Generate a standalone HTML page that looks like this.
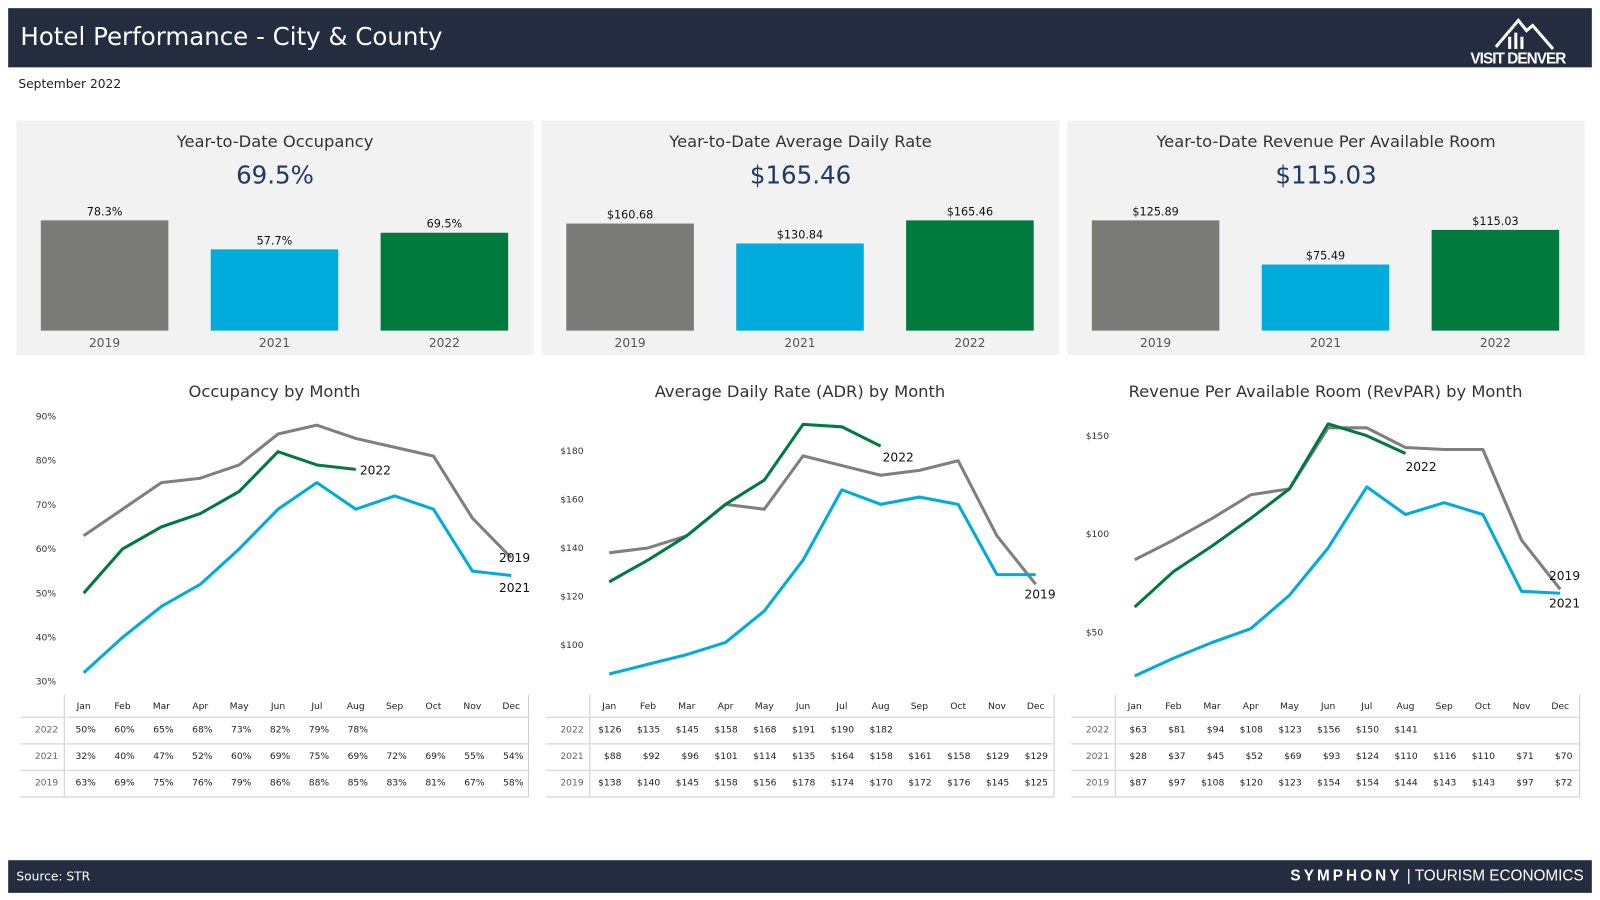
<!DOCTYPE html>
<html><head><meta charset="utf-8">
<style>
html,body{margin:0;width:1600px;height:900px;overflow:hidden;background:#fff}
#wrap{position:absolute;left:0;top:0;width:1568px;height:882px;transform:scale(1.020408);transform-origin:0 0;font-family:"DejaVu Sans","Liberation Sans",sans-serif}
.abs{position:absolute}
#hdr{left:8px;top:8px;width:1552px;height:58px;background:#232d3f}
#ftr{left:8px;top:843px;width:1552px;height:32px;background:#232d3f}
.panel{top:118px;height:230px;width:507px;background:#f2f2f2}
.ptitle{font-size:16px;color:#333;text-align:center;width:100%;top:11px}
.pval{font-size:24px;color:#1f3864;text-align:center;width:100%;top:40px}
</style></head><body>
<div id="wrap">
<div id="hdr" class="abs">
 <div class="abs" style="left:12px;top:14px;font-size:24px;color:#fff">Hotel Performance - City &amp; County</div>
 <svg class="abs" style="left:1430px;top:4px" width="100" height="54">
  <polyline points="28,34 50,8 58,18 64,13 84,36" fill="none" stroke="#fff" stroke-width="3"/>
  <rect x="40" y="24" width="3" height="12" fill="#fff"/><rect x="46" y="20" width="3" height="16" fill="#fff"/><rect x="52" y="24" width="3" height="12" fill="#fff"/>
  <text x="50" y="50" fill="#fff" font-family="Liberation Sans" font-weight="bold" font-size="15" text-anchor="middle" textLength="94">VISIT DENVER</text>
 </svg>
</div>
<div class="abs" style="left:18px;top:75px;font-size:12px;color:#222">September 2022</div>
<div id="ftr" class="abs">
 <div class="abs" style="left:8px;top:9px;font-size:12px;color:#fff">Source: STR</div>
 <div class="abs" style="right:8px;top:7px;font-size:15px;color:#fff;font-family:'Liberation Sans',sans-serif"><b style="letter-spacing:3px">SYMPHONY</b> | TOURISM ECONOMICS</div>
</div>
<svg id="main" class="abs" style="left:0;top:0" width="1568" height="882"></svg>
</div>
<script>
const months=["Jan","Feb","Mar","Apr","May","Jun","Jul","Aug","Sep","Oct","Nov","Dec"];
const ytdYears=["2019","2021","2022"];
const ytdOcc=[78.3,57.7,69.5];
const ytdAdr=[160.68,130.84,165.46];
const ytdRev=[125.89,75.49,115.03];
const occ2022=[50,60,65,68,73,82,79,78];
const occ2021=[32,40,47,52,60,69,75,69,72,69,55,54];
const occ2019=[63,69,75,76,79,86,88,85,83,81,67,58];
const adr2022=[126,135,145,158,168,191,190,182];
const adr2021=[88,92,96,101,114,135,164,158,161,158,129,129];
const adr2019=[138,140,145,158,156,178,174,170,172,176,145,125];
const rev2022=[63,81,94,108,123,156,150,141];
const rev2021=[28,37,45,52,69,93,124,110,116,110,71,70];
const rev2019=[87,97,108,120,123,154,154,144,143,143,97,72];
const occTicks=[30,40,50,60,70,80,90];
const adrTicks=[100,120,140,160,180];
const revTicks=[50,100,150];

const NS="http://www.w3.org/2000/svg";
const svg=document.getElementById('main');
const wrap=document.getElementById('wrap');
function mk(tag,attrs,parent,text){const e=document.createElementNS(NS,tag);for(const k in attrs)e.setAttribute(k,attrs[k]);if(text!==undefined)e.textContent=text;(parent||svg).appendChild(e);return e;}
const colors={"2019":"#7f7f7f","2021":"#00acdb","2022":"#007a3d"};
const barColors=["#7a7a76","#00acdb","#007a3d"];

function panel(x0,title,valText,vals,scale,fmt,name){
  const d=document.createElement('div');d.className='abs panel';d.style.left=x0+'px';
  
  
  d.innerHTML='<div class="abs ptitle">'+title+'</div><div class="abs pval">'+valText+'</div>';
  wrap.insertBefore(d,svg);
  vals.forEach((v,i)=>{
    const bx=x0+24+i*166.5, h=v*scale, base=324;
    const r=mk('rect',{x:bx,y:base-h,width:125,height:h,fill:barColors[i]});
    
    
    const t=mk('text',{x:bx+62.5,y:base-h-5,'font-size':11,'text-anchor':'middle',fill:'#111'},svg,fmt(v));
    
    
    const c=mk('text',{x:bx+62.5,y:340,'font-size':12,'text-anchor':'middle',fill:'#555'},svg,ytdYears[i]);
    
    
  });
}
panel(16,'Year-to-Date Occupancy','69.5%',ytdOcc,1.38,v=>v.toFixed(1)+'%','ytd-occupancy');
panel(531,'Year-to-Date Average Daily Rate','$165.46',ytdAdr,0.653,v=>'$'+v.toFixed(2),'ytd-adr');
panel(1046,'Year-to-Date Revenue Per Available Room','$115.03',ytdRev,0.858,v=>'$'+v.toFixed(2),'ytd-revpar');

function lineChart(cfg){
  const {x0,title,ticks,tmin,y0,yT,tmax,series,fmt,tfmt,name,labels,tickX}=cfg;
  const yS=v=>y0-(v-tmin)*(y0-yT)/(tmax-tmin);
  const xS=i=>cfg.xJan+i*(cfg.xDec-cfg.xJan)/11;
  const tt=mk('text',{x:x0+253,y:389,'font-size':16,'text-anchor':'middle',fill:'#333'},svg,title);
  
  
  ticks.forEach(t=>{const e=mk('text',{x:tickX,y:yS(t)+3,'font-size':9,fill:'#333'},svg,tfmt(t));
    
    });
  series.forEach(s=>{
    const pts=s.data.map((v,i)=>xS(i)+','+yS(v)).join(' ');
    const p=mk('polyline',{points:pts,fill:'none',stroke:colors[s.year],'stroke-width':3,'stroke-linejoin':'round'});
    
    
  });
  labels.forEach(l=>{
    const s=series.find(q=>q.year===l.year);const n=s.data.length-1;
    const e=mk('text',{x:xS(n)+l.dx,y:yS(s.data[n])+l.dy,'font-size':12,fill:'#111'},svg,l.year);
    
    
  });
  const tl=x0+4, tr=x0+502;
  mk('line',{x1:x0+47,y1:681,x2:x0+47,y2:781,stroke:'#ccc'});
  mk('line',{x1:tr,y1:681,x2:tr,y2:781,stroke:'#ccc'});
  [703,729,755,781].forEach(y=>mk('line',{x1:tl,y1:y,x2:tr,y2:y,stroke:'#ddd','stroke-width':1.5}));
  months.forEach((m,i)=>{const e=mk('text',{x:xS(i),y:695,'font-size':9,'text-anchor':'middle',fill:'#222'},svg,m);
    
    });
  const rows=[series.find(s=>s.year==='2022'),series.find(s=>s.year==='2021'),series.find(s=>s.year==='2019')];
  rows.forEach((s,r)=>{
    const y=718+r*26;
    const e=mk('text',{x:x0+41,y:y,'font-size':9,'text-anchor':'end',fill:'#666'},svg,s.year);
    
    
    s.data.forEach((v,i)=>{const c=mk('text',{x:xS(i)+12,y:y,'font-size':9,'text-anchor':'end',fill:'#222'},svg,fmt(v));
      
      });
  });
}
lineChart({x0:16,name:'occupancy',title:'Occupancy by Month',ticks:occTicks,tmin:30,tmax:90,y0:668,yT:408,xJan:82,xDec:501,tickX:35,
  series:[{year:'2019',data:occ2019},{year:'2021',data:occ2021},{year:'2022',data:occ2022}],
  fmt:v=>v+'%',tfmt:t=>t+'%',labels:[{year:'2022',dx:4,dy:5},{year:'2019',dx:-12,dy:4},{year:'2021',dx:-12,dy:16}]});
lineChart({x0:531,name:'adr',title:'Average Daily Rate (ADR) by Month',ticks:adrTicks,tmin:100,tmax:180,y0:632,yT:442,xJan:597,xDec:1015,tickX:549,
  series:[{year:'2019',data:adr2019},{year:'2021',data:adr2021},{year:'2022',data:adr2022}],
  fmt:v=>'$'+v,tfmt:t=>'$'+t,labels:[{year:'2022',dx:2,dy:15},{year:'2019',dx:-11,dy:14}]});
lineChart({x0:1046,name:'revpar',title:'Revenue Per Available Room (RevPAR) by Month',ticks:revTicks,tmin:50,tmax:150,y0:620,yT:427,xJan:1112,xDec:1529,tickX:1064,
  series:[{year:'2019',data:rev2019},{year:'2021',data:rev2021},{year:'2022',data:rev2022}],
  fmt:v=>'$'+v,tfmt:t=>'$'+t,labels:[{year:'2022',dx:0,dy:17},{year:'2019',dx:-11,dy:-9},{year:'2021',dx:-11,dy:14}]});
</script>
</body></html>
